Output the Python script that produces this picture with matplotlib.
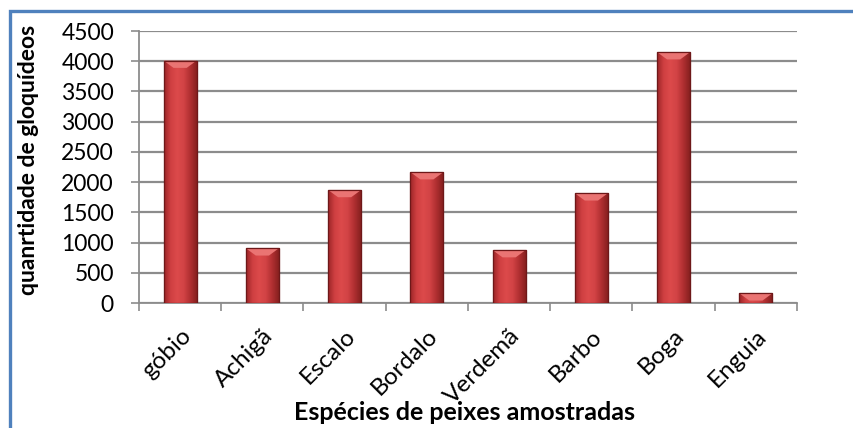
import numpy as np
import matplotlib
matplotlib.use("Agg")
import matplotlib.pyplot as plt
from matplotlib.colors import LinearSegmentedColormap
from matplotlib.patches import Rectangle

species = ["góbio", "Achigã", "Escalo", "Bordalo", "Verdemã", "Barbo", "Boga", "Enguia"]
glochidia = [4010, 905, 1870, 2165, 875, 1815, 4150, 160]
y_ticks = [0, 500, 1000, 1500, 2000, 2500, 3000, 3500, 4000, 4500]

plt.rcParams["font.family"] = ["Lato", "DejaVu Sans"]

fig = plt.figure(figsize=(8.54, 4.28), dpi=100)
fig.patch.set_facecolor("white")

# blue chart-area frame
fig.patches.append(Rectangle((10 / 854, -0.1), 1.2, 1 - 11 / 428 + 0.1,
                             transform=fig.transFigure, fill=False,
                             edgecolor="#4f81bd", linewidth=2.4, zorder=0))

ax = fig.add_axes([139 / 854, 1 - 303 / 428, (797 - 139) / 854, (303 - 31) / 428])
ax.set_xlim(-0.5, len(species) - 0.5)
ax.set_ylim(0, 4500)

x = np.arange(len(species))
bars = ax.bar(x, glochidia, width=0.4, color="#c63a3c", edgecolor="#7b1c1e",
              linewidth=0.8, zorder=3)

# horizontal shading inside each bar for a rounded look
shade = LinearSegmentedColormap.from_list(
    "shade", ["#9a2527", "#cf3f41", "#dc4a4b", "#d24345", "#b02f31", "#86201f"])
grad = np.linspace(0, 1, 256).reshape(1, -1)
for b in bars:
    x0, w, h = b.get_x(), b.get_width(), b.get_height()
    im = ax.imshow(grad, cmap=shade, aspect="auto", extent=(x0, x0 + w, 0, h),
                   zorder=3.5, interpolation="bicubic")
    im.set_clip_path(b)
    # lighter bevel at the top of the bar
    bev = min(h * 0.8, 120)
    ax.fill([x0, x0 + w, x0 + w * 0.7, x0 + w * 0.3],
            [h, h, h - bev, h - bev], color="#ea7473", zorder=3.6, lw=0)
    ax.add_patch(Rectangle((x0, 0), w, h, fill=False, edgecolor="#6e1819",
                           linewidth=0.9, zorder=3.7))

ax.set_yticks(y_ticks)
ax.set_yticklabels([str(v) for v in y_ticks], fontsize=16.5)
ax.yaxis.grid(True, color="#8c8c8c", linewidth=1.6, zorder=0)
ax.set_axisbelow(True)

ax.set_xticks(x)
ax.set_xticklabels(species, rotation=45, ha="right", rotation_mode="anchor",
                   fontsize=17.5)
ax.tick_params(axis="x", length=0, pad=16)
ax.set_xticks(np.arange(-0.5, len(species)), minor=True)
ax.tick_params(axis="x", which="minor", length=6, width=1.2, color="#8c8c8c",
               direction="out")
ax.tick_params(axis="y", length=6, width=1.2, color="#8c8c8c", pad=12)

for side in ("top", "right"):
    ax.spines[side].set_visible(False)
for side in ("left", "bottom"):
    ax.spines[side].set_color("#8c8c8c")
    ax.spines[side].set_linewidth(1.3)

ax.set_ylabel("quanrtidade de gloquídeos", fontsize=16.5, fontweight="bold")
ax.yaxis.set_label_coords(-0.152, 0.525)
fig.text(465 / 854, 1 - 413 / 428, "Espécies de peixes amostradas",
         fontsize=18, fontweight="bold", ha="center", va="center")

fig.savefig("out.png", dpi=100, facecolor="white")
